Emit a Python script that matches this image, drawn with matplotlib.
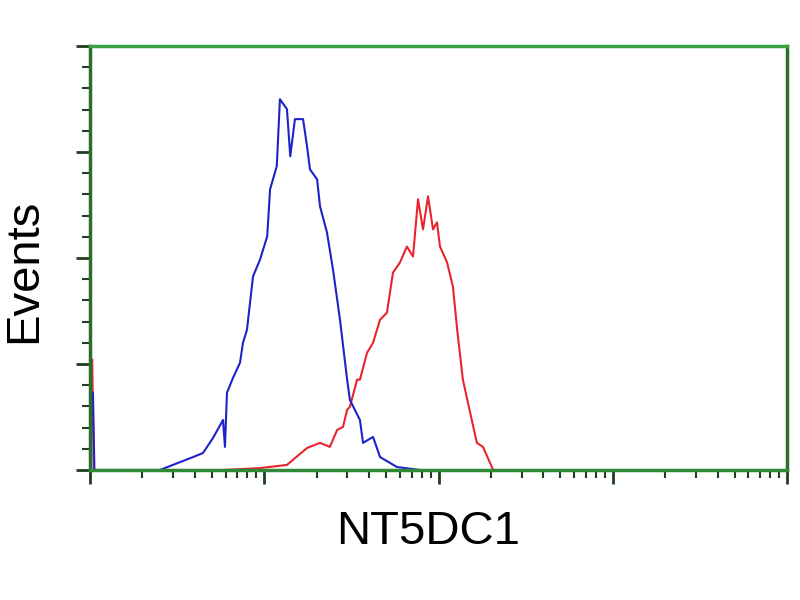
import numpy as np
import matplotlib
matplotlib.use('Agg')
import matplotlib.pyplot as plt
from matplotlib.ticker import LogLocator, MultipleLocator, NullFormatter

# fluorescence intensity (log scale) and event counts
blue_x = [1.04, 1.06, 1.86, 2.52, 2.99, 3.90, 4.45, 5.08, 5.80, 5.95, 6.11, 6.62, 7.26, 7.55,
          7.96, 8.62, 9.46, 10.4, 10.8, 11.8, 12.3, 13.5, 14.1, 15.0, 16.7, 17.6, 18.3,
          20.1, 20.9, 22.9, 24.8, 27.2, 29.9, 31.0, 35.4, 36.9, 42.1, 46.2, 57.8, 78.3]
blue_y = [36.4, 0, 0, 0, 2.4, 6.1, 8.0, 15.1, 23.6, 10.9, 36.4, 43.5, 50.6, 60.0,
          66.2, 91.3, 99.3, 110.2, 132.4, 143.3, 174.9, 170.2, 148.0, 165.5, 165.5, 152.7, 141.8,
          137.1, 124.3, 112.1, 94.6, 70.9, 42.6, 33.1, 23.6, 12.8, 15.6, 6.1, 1.4, 0]

red_x = [1.03, 1.05, 5.80, 9.46, 13.5, 17.6, 20.9, 23.8, 26.2, 28.3, 29.9, 31.0, 34.1, 35.4,
         38.9, 42.1, 46.2, 50.6, 54.8, 60.1, 65.9, 71.4, 76.3, 81.5, 87.1, 93.0, 98.0,
         102, 112, 121, 128, 138, 152, 166, 180, 206, 268]
red_y = [52.0, 0, 0, 0.9, 2.4, 10.4, 12.8, 10.9, 18.9, 20.3, 28.4, 29.8, 42.6, 42.6,
         55.3, 60.0, 70.9, 74.2, 93.1, 97.9, 105.4, 100.7, 127.7, 113.5, 129.1, 113.5, 116.8,
         105.4, 97.9, 86.5, 66.2, 42.6, 27.0, 12.8, 10.9, 0, 0]

fig = plt.figure(figsize=(8, 6), dpi=100)
ax = fig.add_axes([90 / 800, 130 / 600, 697 / 800, 424 / 600])

ax.plot(red_x, red_y, color='#e8242c', lw=1.5)
ax.plot(blue_x, blue_y, color='#1f22c8', lw=1.5)

ax.set_xscale('log')
ax.set_xlim(1, 1e4)
ax.set_ylim(0, 200)

ax.xaxis.set_major_locator(LogLocator(base=10, numticks=10))
ax.xaxis.set_minor_locator(LogLocator(base=10, subs=np.arange(2, 10), numticks=20))
ax.xaxis.set_major_formatter(NullFormatter())
ax.xaxis.set_minor_formatter(NullFormatter())
ax.yaxis.set_major_locator(MultipleLocator(50))
ax.yaxis.set_minor_locator(MultipleLocator(10))
ax.yaxis.set_major_formatter(NullFormatter())

tc = '#1f3f1f'
ax.tick_params(which='major', direction='out', length=10, width=2, color=tc)
ax.tick_params(which='minor', direction='out', length=6, width=1.5, color=tc)
ax.tick_params(top=False, right=False)

ax.spines['top'].set_color('#3aa043')
ax.spines['bottom'].set_color('#2f8a35')
ax.spines['left'].set_color('#2a6e2e')
ax.spines['right'].set_color('#2a6e2e')
for s in ax.spines.values():
    s.set_linewidth(2.5)

font = ['Liberation Sans', 'DejaVu Sans']
ax.set_xlabel('NT5DC1', fontsize=34, family=font)
ax.set_ylabel('Events', fontsize=34, family=font)
ax.xaxis.set_label_coords((428 - 90) / 697, (470 - 510) / 424)
ax.yaxis.set_label_coords((46 - 90) / 697, 0.47)

fig.savefig('out.png', dpi=100)
